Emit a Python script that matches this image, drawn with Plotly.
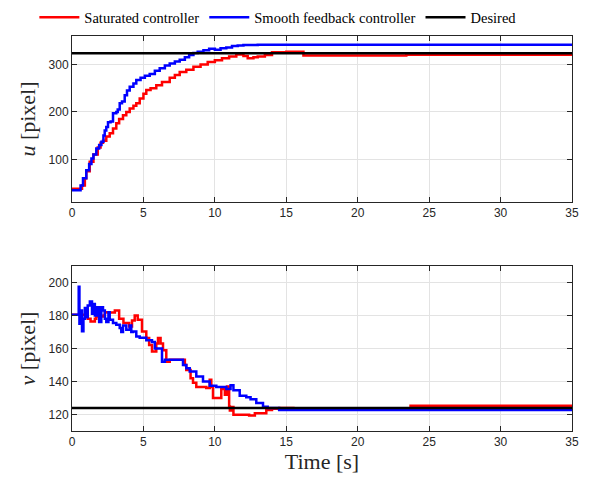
import plotly.graph_objects as go

# ---------------- data ----------------
t_u_sat = [0, 0.5, 0.7, 0.9, 1.0, 1.24, 1.5, 1.8, 2.0, 2.17, 2.4, 2.64, 2.87, 3.1, 3.3, 3.57, 3.8,
           4.04, 4.3, 4.5, 4.74, 5.0, 5.2, 5.5, 5.9, 6.3, 6.84, 7.2, 7.54, 8.0, 8.5, 9.0, 9.5,
           10.0, 10.5, 11.0, 11.5, 12.0, 12.3, 12.7, 13.0, 13.5, 14.0, 15.0, 16.2, 23.4, 35]
u_sat = [38, 38, 45, 60, 75, 95, 110, 125, 135, 139, 148, 155, 165, 176, 185, 193, 200,
         207, 213, 218, 228, 238, 246, 250, 256, 263, 272, 278, 284, 289, 295, 300, 305,
         309, 313, 317, 321, 318, 313, 315, 317, 320, 326, 327, 319, 320.5, 320.5]

t_u_smooth = [0, 0.5, 0.6, 0.77, 1.0, 1.2, 1.36, 1.5, 1.7, 1.9, 2.06, 2.2, 2.29, 2.4, 2.52, 2.7,
              2.87, 3.1, 3.2, 3.34, 3.5, 3.69, 3.85, 4.04, 4.3, 4.5, 4.8, 5.1, 5.44, 5.8, 6.14,
              6.5, 6.84, 7.2, 7.54, 7.9, 8.2, 8.5, 8.8, 9.2, 9.6, 10.0, 10.4, 10.8, 11.2, 11.6,
              12.0, 13.0, 35]
u_smooth = [35, 35, 45, 60, 77, 90, 102, 110, 123, 130, 137, 150, 161, 168, 178, 180,
            197, 200, 205, 218, 222, 235, 245, 253, 260, 267, 272, 276, 280, 287, 292,
            298, 302, 306, 310, 315, 320, 324, 327, 330, 333, 331, 334, 336, 339, 340,
            341, 341.5, 341.5]

t_v_sat = [0, 0.9, 1.0, 1.1, 1.3, 1.6, 1.7, 2.2, 2.3, 2.5, 3.0, 3.3, 3.6, 4.0, 4.2, 4.39, 4.6,
           4.9, 5.2, 5.4, 5.6, 5.9, 6.02, 6.2, 6.37, 6.6, 6.84, 7.66, 7.9, 8.0, 8.3, 8.47, 8.7,
           9.4, 9.64, 9.75, 9.87, 10.3, 10.45, 10.7, 10.85, 11.0, 11.05, 11.15, 11.3, 12.4,
           12.8, 13.6, 14.0, 14.5, 15.5, 16.0, 23.7, 35]
v_sat = [180.4, 180.4, 183, 178, 176.4, 178, 179.4, 180, 182, 181.8, 183, 178, 175.4, 173.4,
         177, 180, 177.4, 170.3, 166.3, 162.2, 158.2, 163, 166.3, 163, 159, 152, 153.2, 153.2,
         150, 147, 142, 139.2, 136.6, 136, 141, 136.6, 130, 130, 135.4, 132, 137, 124.8,
         122.5, 124.5, 119.8, 119.4, 120.8, 122.8, 123.5, 124, 123.5, 123, 125.3, 125.3]

t_v_smooth = [0, 0.45, 0.47, 0.52, 0.6, 0.7, 0.8, 0.9, 1.0, 1.1, 1.25, 1.4, 1.5, 1.6, 1.75,
              1.9, 2.05, 2.17, 2.3, 2.4, 2.55, 2.64, 2.87, 3.1, 3.34, 3.45, 3.57, 3.8, 4.04,
              4.15, 4.27, 4.5, 4.74, 5.2, 5.6, 5.8, 6.3, 6.5, 7.4, 7.77, 8.0, 8.24, 8.7, 9.17,
              9.64, 10.1, 10.8, 11.1, 11.3, 11.74, 12.2, 12.5, 12.9, 13.37, 13.7, 14.5, 35]
v_smooth = [180.4, 180.4, 197.5, 175, 183, 170.5, 178, 184.5, 179, 186, 188.5, 181, 187, 180,
            185, 176, 185, 183, 178, 176, 182, 177.4, 175.5, 174.4, 172.5, 170, 174, 171.3,
            174, 170, 170.3, 167.3, 166.5, 165, 164, 160, 152, 153.2, 153.2, 150, 148, 146,
            143, 140, 137.4, 136.6, 135.4, 137.8, 134.7, 131.3, 130.5, 129.3, 126.9, 124.7,
            123.9, 122.8, 122.8]

t_desired = [0, 35]
u_desired = [323.5, 323.5]
v_desired = [124, 124]

x_ticks = [0, 5, 10, 15, 20, 25, 30, 35]
u_ticks = [100, 200, 300]
v_ticks = [120, 140, 160, 180, 200]

# ---------------- figure ----------------
RED = "#ff0000"
BLUE = "#0000ff"
LW = 2.5

fig = go.Figure()
fig.add_trace(go.Scatter(x=t_u_sat, y=u_sat, mode="lines", line=dict(color=RED, width=LW, shape="hv"),
                         name="Saturated controller", xaxis="x", yaxis="y"))
fig.add_trace(go.Scatter(x=t_u_smooth, y=u_smooth, mode="lines", line=dict(color=BLUE, width=LW, shape="hv"),
                         name="Smooth feedback controller", xaxis="x", yaxis="y"))
fig.add_trace(go.Scatter(x=t_desired, y=u_desired, mode="lines", line=dict(color="black", width=LW),
                         name="Desired", xaxis="x", yaxis="y"))
fig.add_trace(go.Scatter(x=t_v_sat, y=v_sat, mode="lines", line=dict(color=RED, width=LW, shape="hv"),
                         showlegend=False, xaxis="x2", yaxis="y2"))
fig.add_trace(go.Scatter(x=t_v_smooth, y=v_smooth, mode="lines", line=dict(color=BLUE, width=LW, shape="hv"),
                         showlegend=False, xaxis="x2", yaxis="y2"))
fig.add_trace(go.Scatter(x=t_desired, y=v_desired, mode="lines", line=dict(color="black", width=LW),
                         showlegend=False, xaxis="x2", yaxis="y2"))

TICKFONT = dict(family="Liberation Sans, Arial, sans-serif", size=12, color="#262626")
SERIF = "Liberation Serif, Times New Roman, serif"
axis_common = dict(showline=True, linecolor="#262626", linewidth=1, mirror="ticks",
                   ticks="inside", ticklen=5, tickcolor="#262626", tickfont=TICKFONT,
                   showgrid=True, gridcolor="#e3e3e3", gridwidth=1, zeroline=False,
                   automargin=False)

fig.update_layout(
    width=595, height=478,
    margin=dict(l=72, r=23, t=36, b=47, autoexpand=False),
    plot_bgcolor="white", paper_bgcolor="white",
    showlegend=True,
    legend=dict(orientation="h", xref="container", yref="container",
                x=0.467, xanchor="center", y=0.964, yanchor="middle",
                font=dict(family=SERIF, size=14.5, color="black"), bgcolor="rgba(0,0,0,0)",
                itemwidth=40, tracegroupgap=0),
    xaxis=dict(domain=[0, 1], range=[0, 35], tickvals=x_ticks, anchor="y", **axis_common),
    yaxis=dict(domain=[0.5797, 1], range=[10, 360], tickvals=u_ticks, anchor="x",
               title=dict(text="<i>u</i> [pixel]", font=dict(family=SERIF, size=22, color="#262626"),
                          standoff=6), **axis_common),
    xaxis2=dict(domain=[0, 1], range=[0, 35], tickvals=x_ticks, anchor="y2",
                title=dict(text="Time [s]", font=dict(family=SERIF, size=22, color="#262626"),
                           standoff=0), **axis_common),
    yaxis2=dict(domain=[0, 0.4177], range=[110, 210], tickvals=v_ticks, anchor="x2",
                title=dict(text="<i>v</i> [pixel]", font=dict(family=SERIF, size=22, color="#262626"),
                           standoff=6), **axis_common),
)

fig.write_html("out.html", config={"displayModeBar": False},
               post_script="document.body.style.margin='0px';")
